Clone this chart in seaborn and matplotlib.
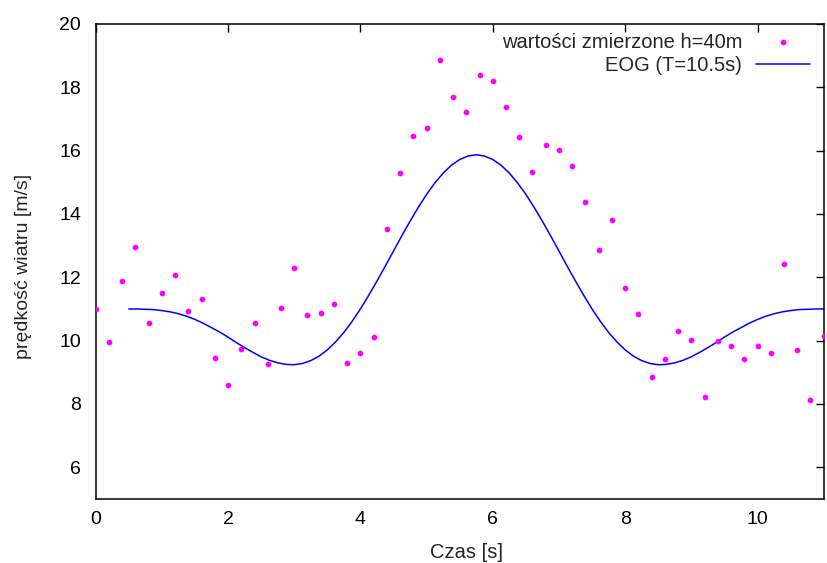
import numpy as np
import pandas as pd
import matplotlib
matplotlib.use("Agg")
import matplotlib.pyplot as plt
import seaborn as sns

# measured wind speed (every 0.2 s)
t_meas = [0.0, 0.2, 0.4, 0.6, 0.8, 1.0, 1.2, 1.4, 1.6, 1.8,
          2.0, 2.2, 2.4, 2.6, 2.8, 3.0, 3.2, 3.4, 3.6, 3.8,
          4.0, 4.2, 4.4, 4.6, 4.8, 5.0, 5.2, 5.4, 5.6, 5.8,
          6.0, 6.2, 6.4, 6.6, 6.8, 7.0, 7.2, 7.4, 7.6, 7.8,
          8.0, 8.2, 8.4, 8.6, 8.8, 9.0, 9.2, 9.4, 9.6, 9.8,
          10.0, 10.2, 10.4, 10.6, 10.8, 11.0]
v_meas = [10.99, 9.97, 11.88, 12.97, 10.57, 11.50, 12.06, 10.94, 11.31, 9.46,
          8.59, 9.74, 10.55, 9.25, 11.02, 12.29, 10.80, 10.87, 11.16, 9.29,
          9.60, 10.10, 13.54, 15.30, 16.47, 16.73, 18.85, 17.69, 17.22, 18.40,
          18.19, 17.38, 16.44, 15.34, 16.17, 16.02, 15.53, 14.38, 12.86, 13.81,
          11.65, 10.84, 8.84, 9.42, 10.30, 10.02, 8.22, 9.98, 9.82, 9.43,
          9.82, 9.60, 12.41, 9.70, 8.13, 10.16]

# EOG curve
t_eog = [0.5, 0.625, 0.75, 0.875, 1.0, 1.125, 1.25, 1.375, 1.5, 1.625,
         1.75, 1.875, 2.0, 2.125, 2.25, 2.375, 2.5, 2.625, 2.75, 2.875,
         3.0, 3.125, 3.25, 3.375, 3.5, 3.625, 3.75, 3.875, 4.0, 4.125,
         4.25, 4.375, 4.5, 4.625, 4.75, 4.875, 5.0, 5.125, 5.25, 5.375,
         5.5, 5.625, 5.75, 5.875, 6.0, 6.125, 6.25, 6.375, 6.5, 6.625,
         6.75, 6.875, 7.0, 7.125, 7.25, 7.375, 7.5, 7.625, 7.75, 7.875,
         8.0, 8.125, 8.25, 8.375, 8.5, 8.625, 8.75, 8.875, 9.0, 9.125,
         9.25, 9.375, 9.5, 9.625, 9.75, 9.875, 10.0, 10.125, 10.25, 10.375,
         10.5, 10.625, 10.75, 10.875, 11.0]
v_eog = [11.00, 11.00, 10.99, 10.98, 10.95, 10.91, 10.85, 10.77, 10.67, 10.55,
         10.41, 10.27, 10.11, 9.94, 9.78, 9.63, 9.49, 9.38, 9.30, 9.25,
         9.24, 9.28, 9.37, 9.51, 9.71, 9.96, 10.26, 10.61, 11.00, 11.43,
         11.88, 12.35, 12.83, 13.31, 13.77, 14.21, 14.62, 14.98, 15.29, 15.54,
         15.72, 15.83, 15.87, 15.83, 15.72, 15.54, 15.29, 14.98, 14.62, 14.21,
         13.77, 13.31, 12.83, 12.35, 11.88, 11.43, 11.00, 10.61, 10.26, 9.96,
         9.71, 9.51, 9.37, 9.28, 9.24, 9.25, 9.30, 9.38, 9.49, 9.63,
         9.78, 9.94, 10.11, 10.27, 10.41, 10.55, 10.67, 10.77, 10.85, 10.91,
         10.95, 10.98, 10.99, 11.00, 11.00]

x_ticks = [0, 2, 4, 6, 8, 10]
y_ticks = [6, 8, 10, 12, 14, 16, 18, 20]

lbl_meas = "wartości zmierzone h=40m"
lbl_eog = "EOG (T=10.5s)"
x_label = "Czas [s]"
y_label = "prędkość wiatru [m/s]"

sns.set_style("white")
plt.rcParams["font.family"] = ["Liberation Sans", "DejaVu Sans"]

fig = plt.figure(figsize=(8.27, 5.63), dpi=100)
ax = fig.add_axes([0.1157, 0.1137, 0.8803, 0.8437])

df_m = pd.DataFrame({"t": t_meas, "v": v_meas})
df_e = pd.DataFrame({"t": t_eog, "v": v_eog})

sns.scatterplot(data=df_m, x="t", y="v", ax=ax, color="#ff00ff", s=17,
                linewidth=0, label=lbl_meas, zorder=3)
sns.lineplot(data=df_e, x="t", y="v", ax=ax, color="#0000ff", linewidth=1.1,
             label=lbl_eog, zorder=2)

ax.set_xlim(0, 11)
ax.set_ylim(5, 20)
ax.set_xticks(x_ticks)
ax.set_yticks(y_ticks)
ax.tick_params(direction="in", length=5.5, width=1, top=True, right=True,
               labelsize=14, colors="black")
ax.tick_params(axis="y", pad=10.5)
ax.tick_params(axis="x", pad=8.5)
for sp in ax.spines.values():
    sp.set_color("black")
    sp.set_linewidth(1.1)
ax.set_xlabel(x_label, fontsize=14.5)
ax.xaxis.set_label_coords(0.5087, -0.092)
ax.set_ylabel(y_label, fontsize=14)
ax.yaxis.set_label_coords(-0.088, 0.49)

leg = ax.legend(loc="upper right", bbox_to_anchor=(0.9815, 0.982),
                frameon=False, markerfirst=False, fontsize=14.5,
                borderpad=0, borderaxespad=0, handlelength=2.7,
                handletextpad=0.68, labelspacing=0.2, scatterpoints=1)

fig.savefig("out.png", dpi=100)
